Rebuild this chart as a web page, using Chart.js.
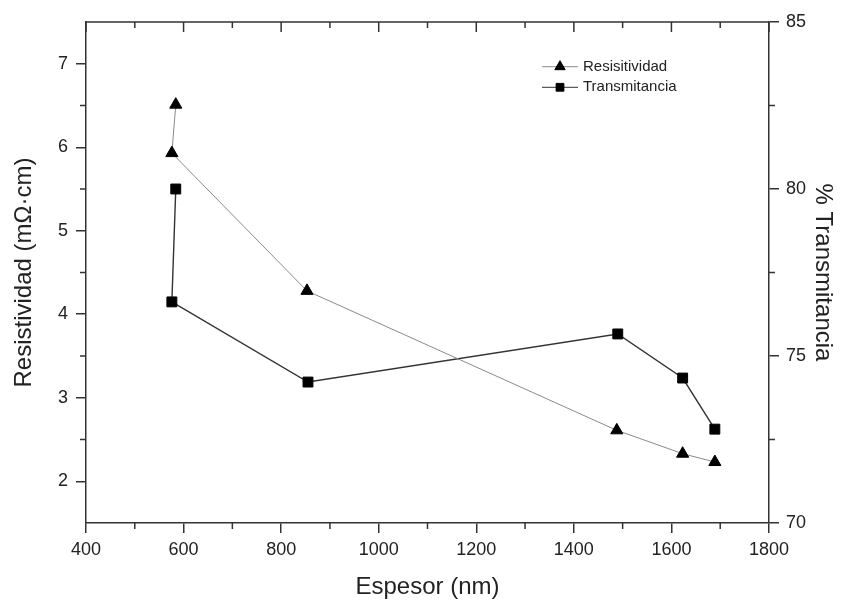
<!DOCTYPE html>
<html><head><meta charset="utf-8">
<script src="https://cdn.jsdelivr.net/npm/chart.js@4"></script>
<style>html,body{margin:0;padding:0;background:#fff}</style>
</head><body>
<canvas id="c" width="849" height="602"></canvas>
<script>
// ---- data ----
const espesorRes = [584, 576, 853, 1488, 1623, 1689];
const resistividad = [6.51, 5.93, 4.28, 2.61, 2.33, 2.23];
const espesorTrans = [584, 576, 855, 1490, 1623, 1689];
const transmitancia = [80.0, 76.62, 74.22, 75.66, 74.34, 72.81];

// ---- ticks ----
const xMajor = [400, 600, 800, 1000, 1200, 1400, 1600, 1800];
const xMinor = [500, 700, 900, 1100, 1300, 1500, 1700];
const resMajor = [2, 3, 4, 5, 6, 7];
const resMinor = [2.5, 3.5, 4.5, 5.5, 6.5];
const transMajor = [70, 75, 80, 85];
const transMinor = [72.5, 77.5, 82.5];

const FONT = '"Liberation Sans", Arial, sans-serif';
const INK = '#222';
const AXIS = '#333';

const framePlugin = {
  id: 'frame',
  afterDraw(chart) {
    const {ctx, chartArea: a, scales} = chart;
    ctx.save();
    ctx.strokeStyle = AXIS;
    ctx.lineWidth = 1.5;
    ctx.beginPath();
    ctx.moveTo(a.left, a.top); ctx.lineTo(a.right, a.top);
    xMajor.forEach(v => { const p = scales.x.getPixelForValue(v); ctx.moveTo(p, a.top); ctx.lineTo(p, a.top + 10); });
    xMinor.forEach(v => {
      const p = scales.x.getPixelForValue(v);
      ctx.moveTo(p, a.top); ctx.lineTo(p, a.top + 6);
      ctx.moveTo(p, a.bottom); ctx.lineTo(p, a.bottom + 6);
    });
    resMinor.forEach(v => { const p = scales.y.getPixelForValue(v); ctx.moveTo(a.left - 6, p); ctx.lineTo(a.left, p); });
    transMinor.forEach(v => { const p = scales.y1.getPixelForValue(v); ctx.moveTo(a.right, p); ctx.lineTo(a.right + 6, p); });
    ctx.stroke();

    // legend
    const rows = [66.7, 87.3];
    const sizes = [6, 5.5];
    chart.data.datasets.forEach((ds, i) => {
      const y = rows[i];
      ctx.strokeStyle = ds.borderColor;
      ctx.lineWidth = 1;
      ctx.beginPath(); ctx.moveTo(542, y); ctx.lineTo(578, y); ctx.stroke();
      ctx.fillStyle = '#000'; ctx.strokeStyle = '#000';
      Chart.helpers.drawPoint(ctx, {pointStyle: ds.pointStyle, rotation: 0, radius: sizes[i], borderWidth: 1}, 560, y);
      ctx.fillStyle = INK;
      ctx.font = '15px ' + FONT;
      ctx.textAlign = 'left';
      ctx.textBaseline = 'middle';
      ctx.fillText(ds.label, 583, y);
    });
    ctx.restore();
  }
};

function setTicks(arr) {
  return scale => { scale.ticks = arr.map(v => ({value: v})); };
}
const plain = v => String(v);

const tickFont = {family: FONT, size: 18};
const titleFont = {family: FONT, size: 24};
const gridOpts = {drawOnChartArea: false, tickLength: 10, tickColor: AXIS, tickWidth: 1.5, color: AXIS, lineWidth: 1.5};
const borderOpts = {color: AXIS, width: 1.5};

new Chart(document.getElementById('c'), {
  type: 'line',
  data: {
    datasets: [
      {
        label: 'Resisitividad',
        data: espesorRes.map((x, i) => ({x, y: resistividad[i]})),
        yAxisID: 'y',
        borderColor: '#8a8a8a',
        borderWidth: 1,
        pointStyle: 'triangle',
        pointRadius: 7,
        pointBackgroundColor: '#000',
        pointBorderColor: '#000',
        pointBorderWidth: 1,
        tension: 0,
        fill: false
      },
      {
        label: 'Transmitancia',
        data: espesorTrans.map((x, i) => ({x, y: transmitancia[i]})),
        yAxisID: 'y1',
        borderColor: '#333',
        borderWidth: 1.4,
        pointStyle: 'rect',
        pointRadius: 7,
        pointBackgroundColor: '#000',
        pointBorderColor: '#000',
        pointBorderWidth: 1,
        tension: 0,
        fill: false
      }
    ]
  },
  options: {
    responsive: false,
    devicePixelRatio: 1,
    animation: false,
    layout: {padding: {top: 22, left: 0, right: 0, bottom: 0}},
    plugins: {legend: {display: false}, tooltip: {enabled: false}},
    scales: {
      x: {
        type: 'linear', position: 'bottom', min: 400, max: 1800,
        afterBuildTicks: setTicks(xMajor),
        afterFit: s => { s.height = 79; },
        grid: gridOpts, border: borderOpts,
        ticks: {font: tickFont, color: INK, padding: 6, maxRotation: 0, autoSkip: false, callback: plain},
        title: {display: true, text: 'Espesor (nm)', font: titleFont, color: INK, padding: {top: 4, bottom: 0}}
      },
      y: {
        type: 'linear', position: 'left', min: 1.5, max: 7.5,
        afterBuildTicks: setTicks(resMajor),
        afterFit: s => { s.width = 86; },
        grid: gridOpts, border: borderOpts,
        ticks: {font: tickFont, color: INK, padding: 8, autoSkip: false, callback: plain},
        title: {display: true, text: 'Resistividad (mΩ·cm)', font: titleFont, color: INK, padding: {top: 10, bottom: 0}}
      },
      y1: {
        type: 'linear', position: 'right', min: 70, max: 85,
        afterBuildTicks: setTicks(transMajor),
        afterFit: s => { s.width = 80; },
        grid: gridOpts, border: borderOpts,
        ticks: {font: tickFont, color: INK, padding: 7, autoSkip: false, callback: plain},
        title: {display: true, text: '% Transmitancia', font: titleFont, color: INK, padding: {top: 12, bottom: 0}}
      }
    }
  },
  plugins: [framePlugin]
});
</script>
</body></html>
